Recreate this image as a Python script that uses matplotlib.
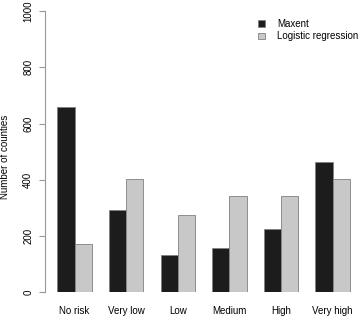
import numpy as np
import matplotlib
matplotlib.use("Agg")
import matplotlib.pyplot as plt

plt.rcParams['font.family'] = ['Liberation Sans', 'DejaVu Sans']

# risk classes and county counts per model
categories = ["No risk", "Very low", "Low", "Medium", "High", "Very high"]
maxent = [660, 294, 134, 159, 224, 464]
logistic = [173, 403, 275, 342, 342, 403]
series_names = ["Maxent", "Logistic regression"]
y_ticks = [0, 200, 400, 600, 800, 1000]

W, H = 358, 317
fig = plt.figure(figsize=(W / 100, H / 100), dpi=100)

# axes placed in pixel terms, R barplot style (bar width 1, group gap 1)
left_px, right_px = 45, 358
bot_px, top_px = 292.3, 11
ax = fig.add_axes([left_px / W, 1 - bot_px / H,
                   (right_px - left_px) / W, (bot_px - top_px) / H])

n = len(categories)
group_start = 1 + 3 * np.arange(n)
ax.bar(group_start + 0.5, maxent, width=1, color="#1c1c1c",
       edgecolor="#808080", linewidth=0.6, label=series_names[0])
ax.bar(group_start + 1.5, logistic, width=1, color="#c8c8c8",
       edgecolor="#808080", linewidth=0.6, label=series_names[1])

ax.set_xlim(0.285, 18.48)
ax.set_ylim(0, 1000)

for s in ["top", "right", "bottom"]:
    ax.spines[s].set_visible(False)
ax.spines["left"].set_color("#999999")
ax.spines["left"].set_linewidth(0.8)
ax.spines["left"].set_bounds(0, 1000)

ax.set_yticks(y_ticks)
ax.set_yticklabels([str(t) for t in y_ticks], rotation=90, va="center")
ax.tick_params(axis="y", length=4, width=0.8, color="#999999",
               labelsize=7, pad=4.5)
ax.set_xticks(group_start + 1)
ax.set_xticklabels(categories)
ax.tick_params(axis="x", length=0, labelsize=7, pad=10)

fig.text(5.5 / W, 1 - 157 / H, "Number of counties", rotation=90,
         ha="center", va="center", fontsize=7)

ax.legend(loc="upper left", bbox_to_anchor=(258 / W, 1 - 19 / H),
          bbox_transform=fig.transFigure, frameon=False, fontsize=7,
          handlelength=0.75, handleheight=0.7, handletextpad=1.2,
          labelspacing=0.25, borderpad=0, borderaxespad=0)

fig.savefig("out.png", dpi=100)
